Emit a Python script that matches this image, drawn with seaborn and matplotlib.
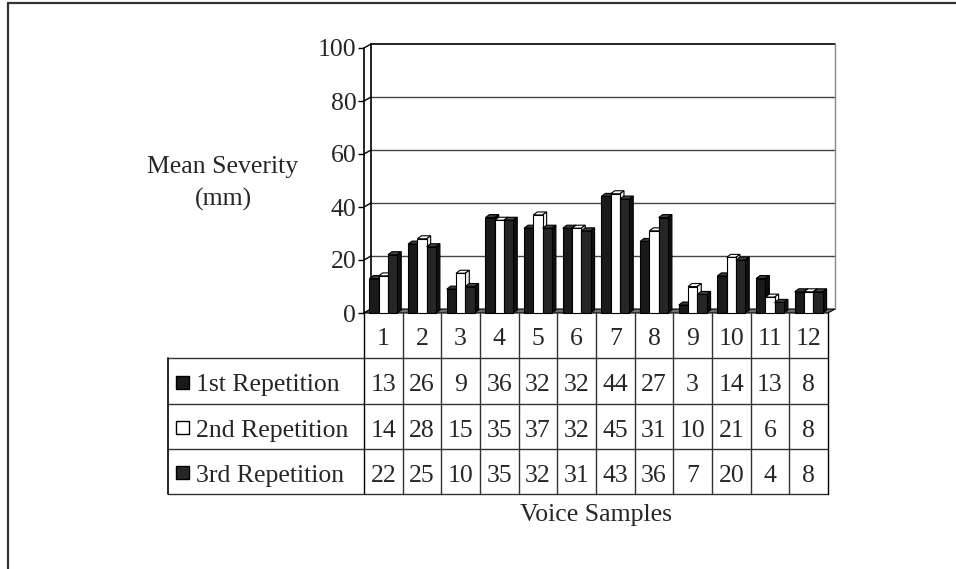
import matplotlib
matplotlib.use("Agg")
import matplotlib.pyplot as plt
import matplotlib.transforms as mtransforms
from matplotlib.patches import Polygon, Rectangle
from matplotlib.lines import Line2D
import seaborn as sns
import pandas as pd
import numpy as np

samples = ["1", "2", "3", "4", "5", "6", "7", "8", "9", "10", "11", "12"]
series_names = ["1st Repetition", "2nd Repetition", "3rd Repetition"]
rep1 = [13, 26, 9, 36, 32, 32, 44, 27, 3, 14, 13, 8]
rep2 = [14, 28, 15, 35, 37, 32, 45, 31, 10, 21, 6, 8]
rep3 = [22, 25, 10, 35, 32, 31, 43, 36, 7, 20, 4, 8]
y_ticks = [0, 20, 40, 60, 80, 100]
y_label_lines = ["Mean Severity", "(mm)"]
x_title = "Voice Samples"

sns.set_theme(style="white")
plt.rcParams["font.family"] = ["Liberation Serif", "DejaVu Serif"]

W, H = 956, 569
DPI = 100
FS = 18.5
fig = plt.figure(figsize=(W / DPI, H / DPI), dpi=DPI)

def fx(px):
    return px / W

def fy(py):
    return 1 - py / H

# plot area
ax = fig.add_axes([fx(364), fy(313), fx(828) - fx(364), fy(48) - fy(313)])
df = pd.DataFrame({
    "sample": samples * 3,
    "rep": [series_names[0]] * 12 + [series_names[1]] * 12 + [series_names[2]] * 12,
    "value": rep1 + rep2 + rep3,
})
front_cols = ["#1a1a1a", "#ffffff", "#262626"]
top_cols = ["#3a3a3a", "#ffffff", "#444444"]
side_cols = ["#0c0c0c", "#eeeeee", "#101010"]
sns.barplot(data=df, x="sample", y="value", hue="rep", order=samples,
            hue_order=series_names, palette=front_cols, width=0.72,
            edgecolor="black", linewidth=0.8, legend=False, ax=ax, saturation=1)
ax.set_xlim(-0.5, 11.5)
ax.set_ylim(0, 100)
ax.set_xlabel("")
ax.set_ylabel("")
ax.set_xticks([])
ax.set_yticks(y_ticks)
ax.set_yticklabels([str(v) for v in y_ticks], fontsize=FS)
ax.tick_params(axis="y", direction="out", length=4.5, width=1, color="black", pad=1, left=True)
for s in ["top", "right", "bottom"]:
    ax.spines[s].set_visible(False)
ax.spines["left"].set_color("black")
ax.spines["left"].set_linewidth(1.2)
ax.patch.set_alpha(0)

fig.canvas.draw()
inv = ax.transData.inverted()
p0 = ax.transData.transform((0, 0))

def px_to_data(dxp, dyp):
    q = inv.transform(p0 + np.array([dxp, dyp]))
    return q[0], q[1]

wdx, wdy = px_to_data(7, 4)
bdx, bdy = px_to_data(4, 3)

wall = ax.transData + mtransforms.ScaledTranslation(7 / DPI, 4 / DPI, fig.dpi_scale_trans)
x_lo, x_hi = -0.5, 11.5
for v in y_ticks[1:-1]:
    ax.plot([x_lo, x_hi], [v, v], transform=wall, color="#444444", lw=1, zorder=1, clip_on=False)
ax.plot([x_lo, x_hi], [100, 100], transform=wall, color="black", lw=1.2, zorder=1, clip_on=False)
ax.plot([x_lo, x_lo], [0, 100], transform=wall, color="black", lw=1.2, zorder=1, clip_on=False)
ax.plot([x_hi, x_hi], [0, 100], transform=wall, color="#888888", lw=1, zorder=1, clip_on=False)
for v in y_ticks:
    ax.plot([x_lo, x_lo + wdx], [v, v + wdy], color="black", lw=1, zorder=1, clip_on=False)

# floor
floor = Polygon([(x_lo, 0), (x_lo + wdx, wdy), (x_hi + wdx, wdy), (x_hi, 0)],
                closed=True, facecolor="#6e6e6e", edgecolor="black", lw=0.8, zorder=2, clip_on=False)
ax.add_patch(floor)

# 3D faces on bars
bars = [p for p in ax.patches if isinstance(p, Rectangle) and p is not floor]
n = len(samples)
for i, p in enumerate(bars):
    k = i // n
    x0 = p.get_x()
    w = p.get_width()
    h = p.get_height()
    x1 = x0 + w
    z = 3 + x0 * 0.1
    p.set_zorder(z + 0.02)
    p.set_clip_on(False)
    top = Polygon([(x0, h), (x0 + bdx, h + bdy), (x1 + bdx, h + bdy), (x1, h)], closed=True,
                  facecolor=top_cols[k], edgecolor="black", lw=0.8, zorder=z + 0.01, clip_on=False)
    side = Polygon([(x1, 0), (x1 + bdx, bdy), (x1 + bdx, h + bdy), (x1, h)], closed=True,
                   facecolor=side_cols[k], edgecolor="black", lw=0.8, zorder=z + 0.01, clip_on=False)
    ax.add_patch(top)
    ax.add_patch(side)

# data table
tax = fig.add_axes([fx(364), fy(494), fx(828) - fx(364), fy(313) - fy(494)])
tax.set_xlim(-0.5, 11.5)
tax.set_ylim(4, 0)
tax.axis("off")
col_w_px = (828 - 364) / 12
leg_left = -0.5 - (364 - 168) / col_w_px
lc = "#333333"
for r in [1, 2, 3, 4]:
    tax.plot([leg_left, 11.5], [r, r], color=lc, lw=1, clip_on=False)
for c in range(13):
    tax.plot([c - 0.5, c - 0.5], [0, 4], color=lc if 0 < c < 12 else "black", lw=1, clip_on=False)
tax.plot([leg_left, leg_left], [1, 4], color="black", lw=1.2, clip_on=False)

for j, s in enumerate(samples):
    tax.text(j, 0.58, s, ha="center", va="center", fontsize=FS)
for r, vals in enumerate([rep1, rep2, rep3]):
    for j, v in enumerate(vals):
        tax.text(j, r + 1.6, str(v), ha="center", va="center", fontsize=FS)

key_x = leg_left + (176 - 168) / col_w_px
key_w = 13 / col_w_px
key_h = 13 / ((494 - 313) / 4)
for r, name in enumerate(series_names):
    yc = r + 1.5
    tax.add_patch(Rectangle((key_x, yc - key_h / 2 + 0.03), key_w, key_h, facecolor=front_cols[r],
                            edgecolor="black", lw=1, clip_on=False))
    tax.text(leg_left + (196 - 168) / col_w_px, yc + 0.1, name, ha="left", va="center", fontsize=FS)

# titles
fig.text(fx(223), fy(167), y_label_lines[0], ha="center", va="center", fontsize=FS)
fig.text(fx(223), fy(199), y_label_lines[1], ha="center", va="center", fontsize=FS)
fig.text(fx(596), fy(515), x_title, ha="center", va="center", fontsize=FS)

# frame
fig.add_artist(Line2D([fx(7.5), 1], [fy(2.5), fy(2.5)], color="#333333", lw=1.6))
fig.add_artist(Line2D([fx(8), fx(8)], [fy(2.5), 0], color="#333333", lw=1.6))

fig.savefig("out.png", dpi=DPI)
